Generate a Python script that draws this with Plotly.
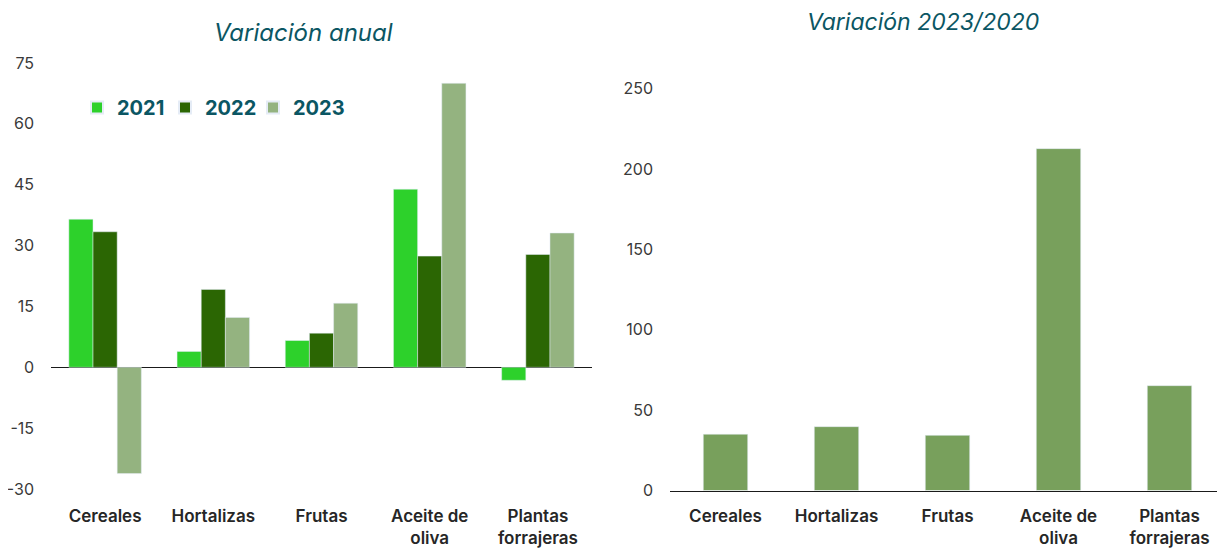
import plotly.graph_objects as go

categories = ["Cereales", "Hortalizas", "Frutas", "Aceite de<br>oliva", "Plantas<br>forrajeras"]
years = ["2021", "2022", "2023"]
v2021 = [36.5, 3.9, 6.6, 43.9, -3.2]
v2022 = [33.4, 19.2, 8.4, 27.4, 27.8]
v2023 = [-26.2, 12.3, 15.8, 70.0, 33.1]
var_2023_2020 = [35.0, 39.7, 34.3, 212.6, 65.2]

left_ticks = [-30, -15, 0, 15, 30, 45, 60, 75]
right_ticks = [0, 50, 100, 150, 200, 250]

colors = {"2021": "#2dd12b", "2022": "#2b6603", "2023": "#94b380"}
right_color = "#78a05c"
teal = "#0b5663"
tickfont = dict(family="Inter", size=16, color="#3a3a3a")
catfont = dict(family="Inter", size=17, color="#262626", weight=600)

# page body has an 8px default margin; positions below are window pixels
OX, OY = 8, 8
W, H = 1225 - OX, 548 - OY


def px(sx):
    return min(1.0, (sx - OX) / W)


def py(sy):
    return 1 - (sy - OY) / H


fig = go.Figure()
for yr, vals in zip(years, [v2021, v2022, v2023]):
    fig.add_trace(go.Bar(x=categories, y=vals, name=yr, marker_color=colors[yr],
                         xaxis="x", yaxis="y", showlegend=True))
# blank legend entry so the last legend label is not clipped
fig.add_trace(go.Scatter(x=[None], y=[None], name=" ", mode="markers",
                         marker=dict(color="rgba(0,0,0,0)"), xaxis="x", yaxis="y",
                         showlegend=True, hoverinfo="skip"))
fig.add_trace(go.Bar(x=categories, y=var_2023_2020, marker_color=right_color,
                     xaxis="x2", yaxis="y2", showlegend=False, width=0.4))

fig.update_layout(
    width=W, height=H,
    margin=dict(l=0, r=0, t=0, b=0, autoexpand=False),
    paper_bgcolor="white", plot_bgcolor="white",
    barmode="group", bargap=0.33, bargroupgap=0,
    xaxis=dict(domain=[px(51), px(592)], anchor="y", showgrid=False, showline=False,
               tickfont=catfont, ticks="", ticklabelstandoff=15, automargin=False),
    yaxis=dict(domain=[py(489), py(63)], anchor="x", range=[-30, 75],
               tickvals=left_ticks, ticktext=[str(t) for t in left_ticks],
               showgrid=False, zeroline=True, zerolinecolor="#1a1a1a",
               zerolinewidth=1.3, tickfont=tickfont, ticks="", ticklabelstandoff=16,
               automargin=False),
    xaxis2=dict(domain=[px(670), px(1225)], anchor="y2", showgrid=False, showline=True,
                linecolor="#1a1a1a", linewidth=1.3, automargin=False,
                tickfont=catfont, ticks="", ticklabelstandoff=10),
    yaxis2=dict(domain=[py(490.5), py(88.5)], anchor="x2", range=[0, 250],
                tickvals=right_ticks, showgrid=False, zeroline=False, tickfont=tickfont,
                ticks="", ticklabelstandoff=16, automargin=False),
    legend=dict(orientation="h", x=px(77), y=py(88), xanchor="left", yanchor="top",
                font=dict(family="Inter", size=20, color=teal, weight=700),
                bgcolor="rgba(0,0,0,0)", entrywidth=43, entrywidthmode="pixels",
                itemsizing="constant"),
    annotations=[
        dict(text="<i>Variación anual</i>", x=px(303), y=py(33), xref="paper", yref="paper",
             showarrow=False, xanchor="center", yanchor="middle",
             font=dict(family="Inter", size=24, color=teal)),
        dict(text="<i>Variación 2023/2020</i>", x=px(924), y=py(22), xref="paper", yref="paper",
             showarrow=False, xanchor="center", yanchor="middle",
             font=dict(family="Inter", size=23, color=teal)),
    ],
)
fig.write_html("out.html")
